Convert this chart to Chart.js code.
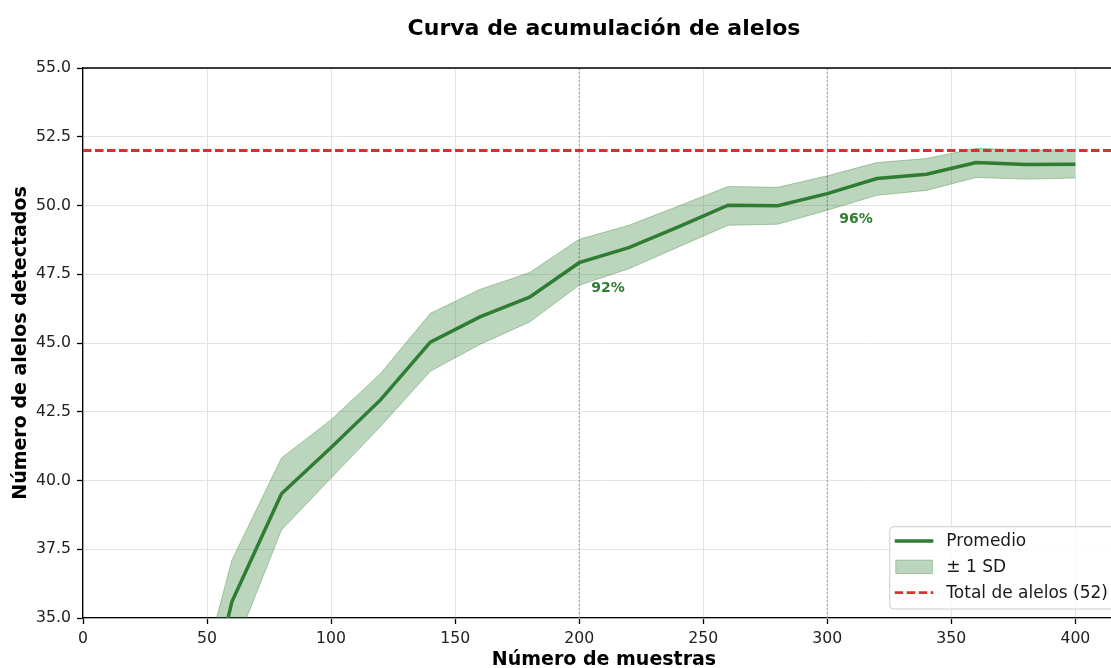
<!DOCTYPE html>
<html>
<head>
<meta charset="utf-8">
<script src="https://cdn.jsdelivr.net/npm/chart.js@4.4.0/dist/chart.umd.min.js"></script>
<style>
  html, body { margin: 0; padding: 0; overflow: hidden; background: #fff; }
  #wrap { width: 1111px; height: 668px; overflow: hidden; }
</style>
</head>
<body>
<div id="wrap"><canvas id="curve" width="1140" height="668"></canvas></div>
<script>
// values
const sampleSizes = [40, 60, 80, 100, 120, 140, 160, 180, 200, 220, 240, 260, 280, 300, 320, 340, 360, 380, 400];
const meanAlleles = [27.9, 35.59, 39.52, 41.2, 42.94, 45.03, 45.95, 46.67, 47.92, 48.47, 49.22, 50.01, 49.99, 50.43, 50.98, 51.14, 51.56, 51.49, 51.5];
const upperSD = [30.3, 37.1, 40.82, 42.21, 43.9, 46.08, 46.95, 47.56, 48.77, 49.28, 49.98, 50.69, 50.66, 51.08, 51.56, 51.71, 52.08, 52.02, 52.02];
const lowerSD = [25.5, 33.66, 38.2, 40.09, 41.97, 43.97, 44.95, 45.76, 47.1, 47.7, 48.49, 49.28, 49.32, 49.83, 50.37, 50.55, 51.02, 50.96, 51.0];

const totalAlleles = 52;
const markerSizes = [200, 300];
const markerLabels = ['92%', '96%'];

const xTicks = [0, 50, 100, 150, 200, 250, 300, 350, 400];
const yTicks = [35, 37.5, 40, 42.5, 45, 47.5, 50, 52.5, 55];

const titleText = 'Curva de acumulación de alelos';
const xTitle = 'Número de muestras';
const yTitle = 'Número de alelos detectados';
const legendLabels = ['Promedio', '± 1 SD', 'Total de alelos (52)'];

const GREEN = '#2e7d32';
const BAND = 'rgba(46,125,50,0.32)';
const BAND_EDGE = 'rgba(46,125,50,0.35)';
const RED = '#d9312f';
const FONT = "'DejaVu Sans', sans-serif";

const xMin = 0, xMax = 420, yMin = 35, yMax = 55;

function pts(ys) {
  return sampleSizes.map((x, i) => ({ x: x, y: ys[i] }));
}

const datasets = [
  {
    label: legendLabels[0], data: pts(meanAlleles),
    borderColor: GREEN, borderWidth: 3.5, pointRadius: 0, fill: false, order: 1, clip: 0
  },
  {
    label: legendLabels[1], data: pts(upperSD),
    borderColor: BAND_EDGE, borderWidth: 1, backgroundColor: BAND, pointRadius: 0, fill: '+1', order: 3, clip: 0
  },
  {
    label: 'lower', data: pts(lowerSD),
    borderColor: BAND_EDGE, borderWidth: 1, pointRadius: 0, fill: false, order: 3, clip: 0
  },
  {
    label: legendLabels[2], data: [{ x: xMin, y: totalAlleles }, { x: xMax, y: totalAlleles }],
    borderColor: RED, borderWidth: 2.8, borderDash: [8.5, 3.5], pointRadius: 0, fill: false, order: 0, clip: 0
  }
];

markerSizes.forEach(function (m) {
  datasets.push({
    label: 'marker', data: [{ x: m, y: yMin }, { x: m, y: yMax }],
    borderColor: '#9a9a9a', borderWidth: 1, borderDash: [2, 2], pointRadius: 0, fill: false, order: 4, clip: 0
  });
});

const extras = {
  id: 'extras',
  afterDatasetsDraw(chart) {
    const ctx = chart.ctx;
    const xs = chart.scales.x, ys = chart.scales.y;
    ctx.save();
    ctx.fillStyle = GREEN;
    ctx.font = 'bold 14px ' + FONT;
    ctx.textBaseline = 'top';
    ctx.textAlign = 'left';
    markerSizes.forEach(function (m, k) {
      const i = sampleSizes.indexOf(m);
      const px = xs.getPixelForValue(m);
      const py = ys.getPixelForValue(meanAlleles[i]);
      ctx.fillText(markerLabels[k], px + 12, py + 19);
    });
    ctx.restore();
  },
  afterDraw(chart) {
    const ctx = chart.ctx;
    const ca = chart.chartArea;
    ctx.save();
    // top and right spines
    ctx.strokeStyle = '#000';
    ctx.lineWidth = 1.3;
    ctx.beginPath();
    ctx.moveTo(ca.left, ca.top);
    ctx.lineTo(ca.right, ca.top);
    ctx.lineTo(ca.right, ca.bottom);
    ctx.stroke();

    // title
    ctx.fillStyle = '#000';
    ctx.font = 'bold 22px ' + FONT;
    ctx.textAlign = 'center';
    ctx.textBaseline = 'alphabetic';
    ctx.fillText(titleText, (ca.left + ca.right) / 2, 35);

    // legend
    ctx.font = '17px ' + FONT;
    let tw = 0;
    legendLabels.forEach(function (t) { tw = Math.max(tw, ctx.measureText(t).width); });
    const w = 5 + 38.6 + 13 + tw + 9;
    const h = 82.3;
    const right = ca.right - 8;
    const bottom = ca.bottom - 9;
    const left = right - w;
    const top = bottom - h;
    const r = 4;
    ctx.beginPath();
    ctx.moveTo(left + r, top);
    ctx.lineTo(right - r, top);
    ctx.quadraticCurveTo(right, top, right, top + r);
    ctx.lineTo(right, bottom - r);
    ctx.quadraticCurveTo(right, bottom, right - r, bottom);
    ctx.lineTo(left + r, bottom);
    ctx.quadraticCurveTo(left, bottom, left, bottom - r);
    ctx.lineTo(left, top + r);
    ctx.quadraticCurveTo(left, top, left + r, top);
    ctx.closePath();
    ctx.fillStyle = 'rgba(255,255,255,0.85)';
    ctx.fill();
    ctx.strokeStyle = '#cccccc';
    ctx.lineWidth = 1;
    ctx.stroke();

    const rows = [top + 14.3, top + 40.1, top + 66];
    const hx0 = left + 5, hx1 = left + 43.6;
    // Promedio
    ctx.strokeStyle = GREEN;
    ctx.lineWidth = 3.5;
    ctx.beginPath();
    ctx.moveTo(hx0, rows[0]);
    ctx.lineTo(hx1, rows[0]);
    ctx.stroke();
    // band patch
    ctx.fillStyle = BAND;
    ctx.fillRect(hx0 + 1, rows[1] - 6.7, hx1 - hx0 - 2, 13.4);
    ctx.strokeStyle = BAND_EDGE;
    ctx.lineWidth = 1;
    ctx.strokeRect(hx0 + 1, rows[1] - 6.7, hx1 - hx0 - 2, 13.4);
    // red dashed
    ctx.strokeStyle = RED;
    ctx.lineWidth = 2.8;
    ctx.setLineDash([8.5, 3.5]);
    ctx.beginPath();
    ctx.moveTo(hx0, rows[2]);
    ctx.lineTo(hx1, rows[2]);
    ctx.stroke();
    ctx.setLineDash([]);

    ctx.fillStyle = '#1a1a1a';
    ctx.textAlign = 'left';
    ctx.textBaseline = 'middle';
    legendLabels.forEach(function (t, i) {
      ctx.fillText(t, left + 56.6, rows[i] + 1);
    });
    ctx.restore();
  }
};

new Chart(document.getElementById('curve').getContext('2d'), {
  type: 'line',
  data: { datasets: datasets },
  options: {
    responsive: false,
    animation: false,
    devicePixelRatio: 1,
    layout: { padding: { top: 68, right: 15, left: 0, bottom: 0 } },
    plugins: {
      legend: { display: false },
      tooltip: { enabled: false },
      title: { display: false }
    },
    elements: { line: { tension: 0 } },
    scales: {
      x: {
        type: 'linear',
        min: xMin,
        max: xMax,
        afterBuildTicks: function (scale) {
          scale.ticks = xTicks.map(function (v) { return { value: v }; });
        },
        afterFit: function (scale) { scale.height = 50; },
        ticks: {
          font: { family: FONT, size: 15.7 },
          color: '#222',
          padding: 6,
          maxRotation: 0,
          callback: function (v) { return String(v); }
        },
        grid: { color: '#e3e3e3', lineWidth: 1, tickColor: '#000', tickLength: 6, tickWidth: 1.3 },
        border: { color: '#000', width: 1.3 },
        title: {
          display: true,
          text: xTitle,
          font: { family: FONT, size: 19, weight: 'bold', lineHeight: 1 },
          color: '#000',
          padding: { top: 0, bottom: -2 }
        }
      },
      y: {
        type: 'linear',
        min: yMin,
        max: yMax,
        afterBuildTicks: function (scale) {
          scale.ticks = yTicks.map(function (v) { return { value: v }; });
        },
        afterFit: function (scale) { scale.width = 83; },
        ticks: {
          font: { family: FONT, size: 15.7 },
          color: '#222',
          padding: 6,
          callback: function (v) { return Number(v).toFixed(1); }
        },
        grid: { color: '#e3e3e3', lineWidth: 1, tickColor: '#000', tickLength: 6, tickWidth: 1.3 },
        border: { color: '#000', width: 1.3 },
        title: {
          display: true,
          text: yTitle,
          font: { family: FONT, size: 19, weight: 'bold', lineHeight: 1 },
          color: '#000',
          padding: { top: 11.5, bottom: 0 }
        }
      }
    }
  },
  plugins: [extras]
});
</script>
</body>
</html>
